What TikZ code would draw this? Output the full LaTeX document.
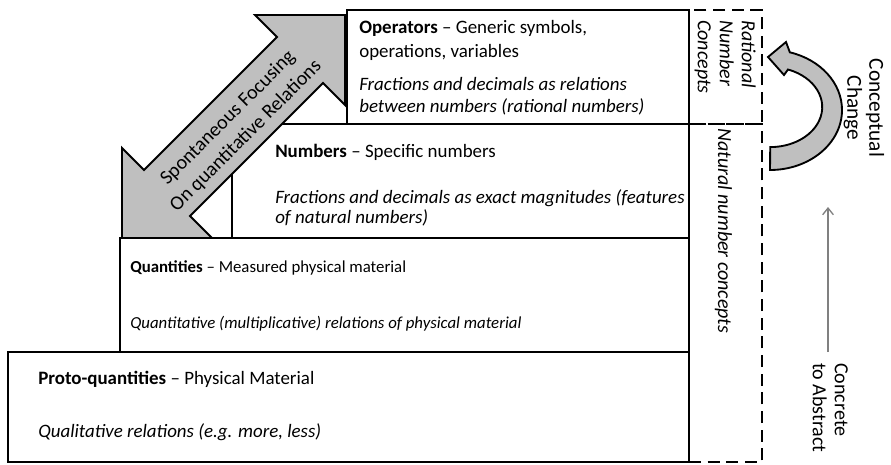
\documentclass[tikz,border=0pt]{standalone}
\usepackage{fontspec}
\setmainfont{Carlito}
\usetikzlibrary{arrows.meta}
\definecolor{arrowgray}{RGB}{191, 191, 191}
\definecolor{linegray}{RGB}{128, 128, 128}
\newcommand{\bodyfont}{\fontsize{14.2}{17}\selectfont}
\newcommand{\qtyfont}{\fontsize{12.6}{15}\selectfont}
\newcommand{\sidefont}{\fontsize{15}{16.5}\selectfont}

\begin{document}
\begin{tikzpicture}[x=0.75pt, y=-0.75pt,
  level/.style={draw, fill=white, line width=1.4pt, inner sep=0pt},
  dashcol/.style={draw, line width=1.6pt, dash pattern=on 9pt off 5pt, inner sep=0pt},
  lbl/.style={anchor=base west, inner sep=0pt, font=\bodyfont},
  desc/.style={anchor=base west, inner sep=0pt, font=\bodyfont\itshape},
  vtext/.style={rotate=-90, inner sep=0pt, font=\sidefont}]
  \useasboundingbox (0,0) rectangle (891,464);

  % concept columns
  \node[dashcol, minimum width=54.75pt, minimum height=85.5pt] (ratcol) at (725.5, 67) {};
  \node[dashcol, minimum width=54.75pt, minimum height=253.5pt] (natcol) at (725.5, 293) {};

  % levels
  \node[level, minimum width=510.75pt, minimum height=82.5pt] (proto) at (348.5, 407) {};
  \node[level, minimum width=426.75pt, minimum height=85.5pt] (qty) at (404.5, 295) {};
  \node[level, minimum width=342.75pt, minimum height=85.5pt] (num) at (460.5, 181) {};

  % spontaneous focusing arrow
  \draw[line width=1.4pt, fill=arrowgray, line join=miter]
    (345, 15) -- (255, 15) -- (277, 37) -- (144, 170) -- (122, 148) -- (122, 238)
    -- (212, 238) -- (190, 216) -- (323, 83) -- (345, 105) -- cycle;
  \node[rotate=45, align=center, font=\fontsize{15}{19}\selectfont] (sfor) at (237, 127)
    {Spontaneous Focusing\\On quantitative Relations};

  \node[level, minimum width=256.5pt, minimum height=85.5pt] (ops) at (518, 67) {};

  % texts
  \node[lbl] (opsA) at (359, 33) {\textbf{Operators} -- Generic symbols,};
  \node[lbl] (opsB) at (359, 57) {operations, variables};
  \node[desc] (opsC) at (359, 90) {Fractions and decimals as relations};
  \node[desc] (opsD) at (359, 112) {between numbers (rational numbers)};

  \node[lbl] (numA) at (275, 157) {\textbf{Numbers} -- Specific numbers};
  \node[desc] (numB) at (275, 203) {Fractions and decimals as exact magnitudes (features};
  \node[desc] (numC) at (275, 223) {of natural numbers)};

  \node[lbl, font=\qtyfont] (qtyA) at (130, 272) {\textbf{Quantities} -- Measured physical material};
  \node[desc, font=\qtyfont\itshape] (qtyB) at (130, 328) {Quantitative (multiplicative) relations of physical material};

  \node[lbl] (protoA) at (38, 384) {\textbf{Proto-quantities} -- Physical Material};
  \node[desc] (protoB) at (38, 437) {Qualitative relations (e.g. more, less)};

  \node[vtext, anchor=north west, align=left, font=\sidefont\itshape] (ratlbl) at (756, 20)
    {Rational\\Number\\Concepts};
  \node[vtext, anchor=base west, font=\sidefont\itshape] (natlbl) at (718, 128) {Natural number concepts};

  % conceptual change
  \draw[line width=1.4pt, fill=arrowgray, line join=miter]
    (770, 170) arc[start angle=90, end angle=-74, x radius=72, y radius=60]
    -- (786, 42) -- (768, 57) -- (784, 75) -- (788, 69.5)
    arc[start angle=-70, end angle=90, x radius=52, y radius=40] -- cycle;
  \node[vtext, align=center, font=\fontsize{16}{16.5}\selectfont] (cclbl) at (864, 108) {Conceptual\\Change};

  % concrete to abstract
  \node[vtext, anchor=north west, align=left] (c2a) at (848, 363) {Concrete\\to Abstract};
  \coordinate (c2abot) at (828, 352);
  \coordinate (c2atop) at (828, 207);
  \draw[linegray, line width=1pt, -{Straight Barb[length=5pt, width=8pt]}] (c2abot) -- (c2atop);
\end{tikzpicture}
\end{document}
